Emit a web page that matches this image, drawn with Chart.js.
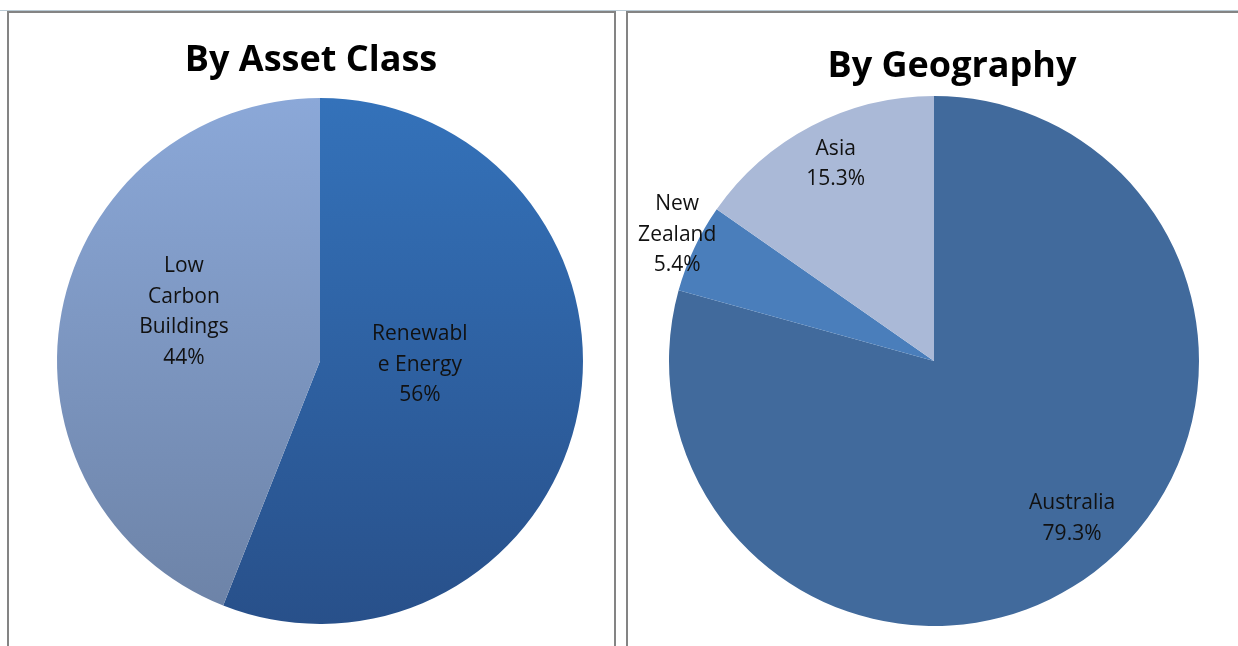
<!DOCTYPE html>
<html>
<head>
<meta charset="utf-8">
<script src="https://cdn.jsdelivr.net/npm/chart.js@4/dist/chart.umd.min.js"></script>
<style>
  body { margin: 0; background: #fff; width: 1238px; height: 646px; overflow: hidden; position: relative; }
  .line { position: absolute; }
  #top_light { left: 0; top: 10px; width: 1238px; height: 1px; background: #b9c9d3; }
  .gray { background: #848484; }
  #asset_wrap { position: absolute; left: 8px; top: 13px; width: 607px; height: 633px; }
  #geo_wrap { position: absolute; left: 628px; top: 13px; width: 610px; height: 633px; }
</style>
</head>
<body>
<div class="line" id="top_light"></div>
<div class="line gray" style="left:7px;top:11px;width:609px;height:2px;"></div>
<div class="line gray" style="left:626px;top:11px;width:612px;height:2px;"></div>
<div class="line gray" style="left:7px;top:11px;width:2px;height:635px;"></div>
<div class="line gray" style="left:614px;top:11px;width:2px;height:635px;"></div>
<div class="line gray" style="left:626px;top:11px;width:2px;height:635px;"></div>

<div id="asset_wrap"><canvas id="asset_chart"></canvas></div>
<div id="geo_wrap"><canvas id="geo_chart"></canvas></div>

<script>
// data
const asset_labels = ['Renewable Energy', 'Low Carbon Buildings'];
const asset_values = [56, 44];
const asset_text = [['Renewabl', 'e Energy', '56%'], ['Low', 'Carbon', 'Buildings', '44%']];

const geo_labels = ['Australia', 'New Zealand', 'Asia'];
const geo_values = [79.3, 5.4, 15.3];
const geo_text = [['Australia', '79.3%'], ['New', 'Zealand', '5.4%'], ['Asia', '15.3%']];

// label placement: [fraction of radius, angle shift in degrees]
const asset_label_pos = [[0.38, -8.5], [0.55, 9]];
const geo_label_pos = [[0.79, -4], [1.08, 1], [0.83, 1]];

const FONT = '"Open Sans", "Noto Sans", sans-serif';

// draws the multi-line slice labels
const sliceLabels = {
    id: 'sliceLabels',
    afterDatasetsDraw(chart, args, opts){
        const ctx = chart.ctx;
        const meta = chart.getDatasetMeta(0);
        ctx.save();
        ctx.fillStyle = '#111';
        ctx.font = opts.size + 'px ' + FONT;
        ctx.textAlign = 'center';
        ctx.textBaseline = 'middle';
        meta.data.forEach(function(arc, i){
            const p = arc.getProps(['x', 'y', 'startAngle', 'endAngle', 'outerRadius'], true);
            const pos = opts.pos[i];
            const mid = (p.startAngle + p.endAngle) / 2 + pos[1] * Math.PI / 180;
            const r = p.outerRadius * pos[0];
            const x = p.x + Math.cos(mid) * r;
            const y = p.y + Math.sin(mid) * r;
            const lines = opts.text[i];
            const top = y - (lines.length - 1) * opts.lineHeight / 2;
            lines.forEach(function(t, j){
                ctx.fillText(t, x, top + j * opts.lineHeight);
            });
        });
        ctx.restore();
    }
};

// title drawn at a given position on the canvas
const panelTitle = {
    id: 'panelTitle',
    afterDraw(chart, args, opts){
        const ctx = chart.ctx;
        ctx.save();
        ctx.fillStyle = '#000';
        ctx.font = 'bold ' + opts.size + 'px ' + FONT;
        ctx.textAlign = 'center';
        ctx.textBaseline = 'middle';
        ctx.fillText(opts.text, opts.x, opts.y);
        ctx.restore();
    }
};

function vGradient(chart, top, bottom){
    const area = chart.chartArea;
    if(!area) return top;
    const g = chart.ctx.createLinearGradient(0, area.top, 0, area.bottom);
    g.addColorStop(0, top);
    g.addColorStop(1, bottom);
    return g;
}

function initAssetChart(){
    const ctx = document.getElementById('asset_chart').getContext('2d');
    new Chart(ctx, {
        type: 'pie',
        data: {
            labels: asset_labels,
            datasets: [{
                data: asset_values,
                backgroundColor: function(c){
                    return c.dataIndex === 0
                        ? vGradient(c.chart, '#3472ba', '#28508a')
                        : vGradient(c.chart, '#8ba8d8', '#6c82a6');
                },
                borderWidth: 0
            }]
        },
        options: {
            responsive: true,
            maintainAspectRatio: false,
            animation: false,
            layout: { padding: { left: 49, right: 32, top: 85, bottom: 22 } },
            plugins: {
                legend: { display: false },
                tooltip: { enabled: false },
                panelTitle: { text: 'By Asset Class', x: 303, y: 48, size: 36 },
                sliceLabels: { text: asset_text, pos: asset_label_pos, size: 21, lineHeight: 30.5 }
            }
        },
        plugins: [sliceLabels, panelTitle]
    });
}

function initGeoChart(){
    const ctx = document.getElementById('geo_chart').getContext('2d');
    new Chart(ctx, {
        type: 'pie',
        data: {
            labels: geo_labels,
            datasets: [{
                data: geo_values,
                backgroundColor: ['#416a9c', '#4a7ebb', '#aab9d7'],
                borderColor: '#ffffff',
                borderWidth: [0, 0, 0]
            }]
        },
        options: {
            responsive: true,
            maintainAspectRatio: false,
            animation: false,
            layout: { padding: { left: 41, right: 39, top: 83, bottom: 20 } },
            plugins: {
                legend: { display: false },
                tooltip: { enabled: false },
                panelTitle: { text: 'By Geography', x: 324, y: 54, size: 36 },
                sliceLabels: { text: geo_text, pos: geo_label_pos, size: 21, lineHeight: 30.5 }
            }
        },
        plugins: [sliceLabels, panelTitle]
    });
}

initAssetChart();
initGeoChart();
</script>
</body>
</html>
